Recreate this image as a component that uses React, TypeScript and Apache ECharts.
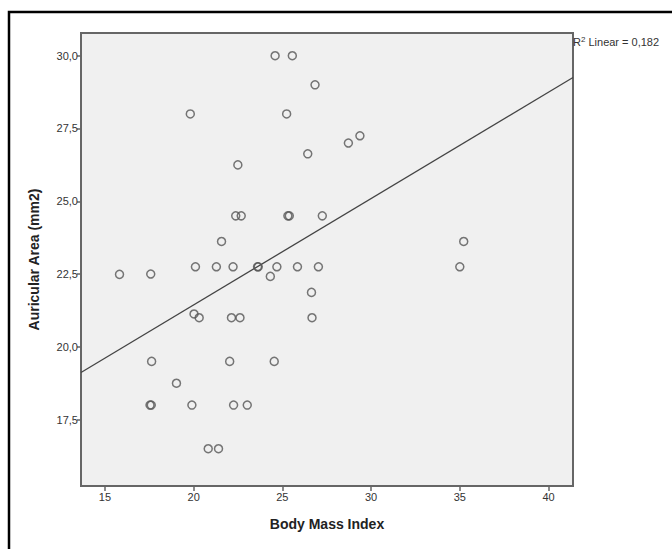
import React, { useEffect, useRef } from "react";
import * as echarts from "echarts";

const bmi = [
  24.59, 25.56, 26.84, 19.81, 25.24, 29.37, 28.72, 26.43, 22.49,
  22.37, 22.68, 25.31, 25.39, 27.25, 21.57, 35.22, 35.0,
  15.82, 17.58, 20.1, 21.28, 22.22, 23.6, 23.64, 24.69, 25.85, 27.03,
  24.32, 26.64, 20.02, 20.31, 22.13, 22.61, 26.67,
  17.63, 22.03, 24.54, 19.03, 17.54, 17.61, 19.9, 22.25, 23.02,
  20.82, 21.4,
];
const area = [
  30.0, 30.0, 29.0, 28.0, 28.0, 27.25, 27.0, 26.63, 26.25,
  24.5, 24.5, 24.5, 24.5, 24.5, 23.62, 23.62, 22.75,
  22.49, 22.5, 22.75, 22.75, 22.75, 22.75, 22.75, 22.75, 22.75, 22.75,
  22.42, 21.87, 21.13, 21.0, 21.0, 21.0, 21.0,
  19.5, 19.5, 19.5, 18.75, 18.0, 18.0, 18.0, 18.0, 18.0,
  16.5, 16.5,
];
const fitX = [13.65, 41.38];
const fitY = [19.12, 29.25];
const xTicks = [15, 20, 25, 30, 35, 40];
const yTicks = [17.5, 20, 22.5, 25, 27.5, 30];
const xRange = [13.65, 41.38];
const yRange = [15.22, 30.78];

export default function App() {
  const ref = useRef<HTMLDivElement>(null);
  useEffect(() => {
    document.body.style.margin = "0";
    const chart = echarts.init(ref.current!, null, { renderer: "svg" });
    const font = "'Liberation Sans', Arial, sans-serif";
    chart.setOption({
      animation: false,
      backgroundColor: "#ffffff",
      textStyle: { fontFamily: font },
      grid: {
        show: true,
        left: 81,
        top: 33,
        right: 99,
        bottom: 63,
        backgroundColor: "#f0f0f0",
        borderColor: "#666",
        borderWidth: 2,
      },
      xAxis: {
        type: "value",
        min: xRange[0],
        max: xRange[1],
        name: "Body Mass Index",
        nameLocation: "middle",
        nameGap: 31,
        nameTextStyle: { fontSize: 14, fontWeight: "bold", color: "#222", fontFamily: font },
        axisLine: { show: true, lineStyle: { color: "#666", width: 2 } },
        axisTick: { show: true, length: 5, lineStyle: { color: "#666", width: 1.5 }, customValues: xTicks },
        axisLabel: { customValues: xTicks, color: "#333", fontSize: 11, margin: 5, fontFamily: font },
        splitLine: { show: false },
      },
      yAxis: {
        type: "value",
        min: yRange[0],
        max: yRange[1],
        name: "Auricular Area (mm2)",
        nameLocation: "middle",
        nameGap: 40,
        nameTextStyle: { fontSize: 14, fontWeight: "bold", color: "#222", fontFamily: font },
        axisLine: { show: true, lineStyle: { color: "#666", width: 2 } },
        axisTick: { show: true, length: 4, lineStyle: { color: "#666", width: 1.5 }, customValues: yTicks },
        axisLabel: {
          customValues: yTicks,
          color: "#333",
          fontSize: 11,
          margin: 3,
          fontFamily: font,
          formatter: (v: number) => v.toFixed(1).replace(".", ","),
        },
        splitLine: { show: false },
      },
      graphic: [
        {
          type: "rect",
          shape: { x: 9, y: 12, width: 700, height: 600 },
          style: { fill: "none", stroke: "#000", lineWidth: 2.5 },
          silent: true,
        },
        {
          type: "text",
          x: 573,
          y: 42,
          style: {
            text: "{a|R}{b|2}{a| Linear = 0,182}",
            fill: "#333",
            fontFamily: font,
            fontSize: 11,
            verticalAlign: "middle",
            rich: {
              a: { fontSize: 11, fill: "#333", color: "#333", fontFamily: font, verticalAlign: "middle" },
              b: { fontSize: 8, fill: "#333", color: "#333", fontFamily: font, verticalAlign: "top", padding: [0, 0, 6, 0] },
            },
          },
        },
      ],
      series: [
        {
          type: "line",
          data: fitX.map((x, i) => [x, fitY[i]]),
          symbol: "none",
          lineStyle: { color: "#444", width: 1.3 },
          silent: true,
          z: 1,
        },
        {
          type: "scatter",
          data: bmi.map((x, i) => [x, area[i]]),
          symbol: "circle",
          symbolSize: 8,
          itemStyle: { color: "transparent", borderColor: "#555", borderWidth: 1.5 },
          z: 2,
        },
      ],
    });
    return () => chart.dispose();
  }, []);
  return <div ref={ref} style={{ width: 672, height: 549 }} />;
}
